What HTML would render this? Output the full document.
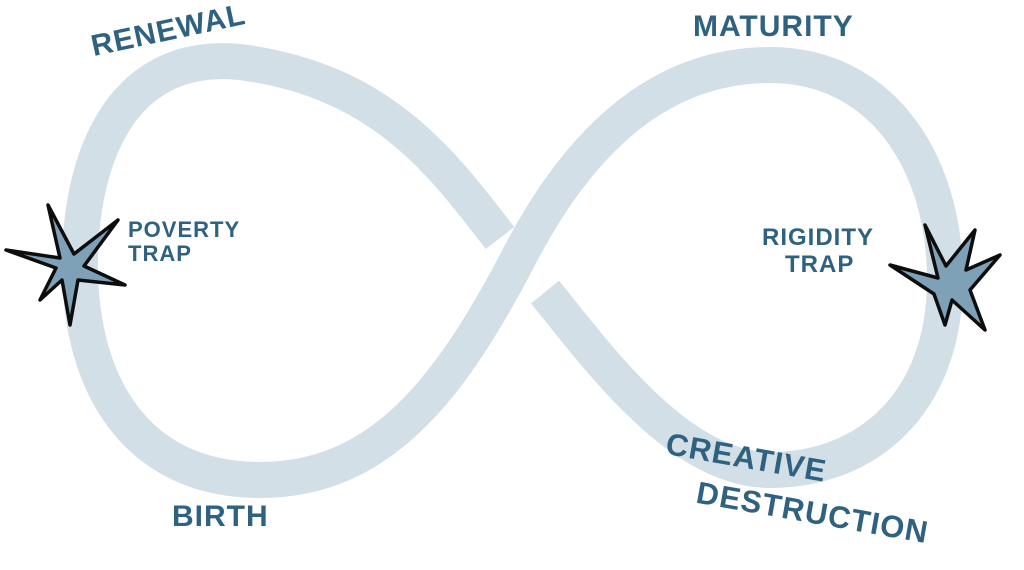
<!DOCTYPE html>
<html><head><meta charset="utf-8"><style>
html,body{margin:0;padding:0;background:#fff;}
body{width:1024px;height:570px;overflow:hidden;position:relative;}
.t{position:absolute;font-family:"Liberation Sans",sans-serif;color:#2f6280;font-weight:bold;letter-spacing:1px;white-space:nowrap;}
</style></head><body>
<svg width="1024" height="570" style="position:absolute;left:0;top:0">
<path d="M500,238 C440,160 380,80 240,62 C120,50 80,160 80,265 C80,390 140,480 260,480 C380,480 450,390 520,255 C580,140 660,65 770,65 C880,65 945,160 945,280 C945,400 870,470 770,470 C680,470 600,360 545,292" fill="none" stroke="#d3dfe6" stroke-width="36" stroke-linecap="butt"/>
<g stroke="#0d0d0d" stroke-width="3.5" stroke-linejoin="round" fill="#7fa1b8">
<polygon points="48,205 74,254 118,220 84,266 125,285 78,280 70,325 62,280 40,300 56,268 6,250 60,258"/>
<polygon points="925,225 946,266 975,230 966,270 1000,255 970,290 985,330 952,300 945,325 934,294 890,265 938,278"/>
</g>
</svg>
<div class="t" style="left:90px;top:14px;font-size:30px;transform:rotate(-12deg);">RENEWAL</div>
<div class="t" style="left:693px;top:10px;font-size:30px;">MATURITY</div>
<div class="t" style="left:128px;top:218px;font-size:22px;line-height:24px;">POVERTY<br>TRAP</div>
<div class="t" style="left:762px;top:224px;font-size:24px;line-height:27px;">RIGIDITY<br>&nbsp;&nbsp;&nbsp;TRAP</div>
<div class="t" style="left:172px;top:500px;font-size:30px;">BIRTH</div>
<div class="t" style="left:665px;top:440px;font-size:31px;transform:rotate(10deg);">CREATIVE</div>
<div class="t" style="left:695px;top:495px;font-size:31px;transform:rotate(10deg);">DESTRUCTION</div>
</body></html>
